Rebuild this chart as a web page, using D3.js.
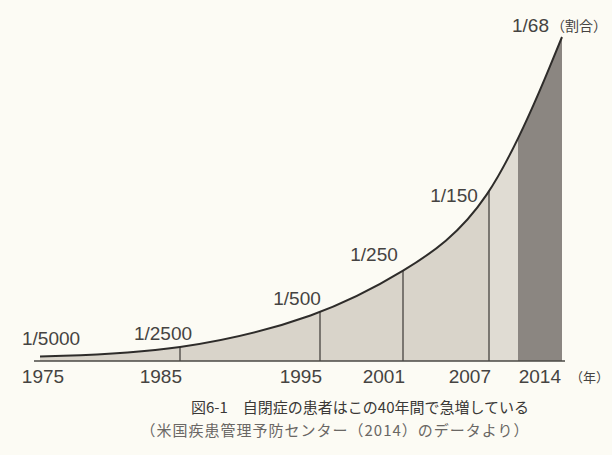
<!DOCTYPE html>
<html>
<head>
<meta charset="utf-8">
<script src="https://cdn.jsdelivr.net/npm/d3@7"></script>
<style>
    body { margin: 0; background: #fcfbf4; }
    svg { display: block; }
</style>
</head>
<body>
<svg id="chart"></svg>
<script>
// データ
const years = [1975, 1985, 1995, 2001, 2007, 2014];
const ratioLabels = ["1/5000", "1/2500", "1/500", "1/250", "1/150", "1/68"];
const ratios = [1 / 5000, 1 / 2500, 1 / 500, 1 / 250, 1 / 150, 1 / 68];
const unitLabel = "（割合）";
const yearUnit = "（年）";
const caption = "図6-1　自閉症の患者はこの40年間で急増している";
const source = "（米国疾患管理予防センター（2014）のデータより）";

const width = 612;
const height = 455;

const svg = d3.select("#chart")
    .attr("width", width)
    .attr("height", height);

svg.append("rect")
    .attr("width", width)
    .attr("height", height)
    .attr("fill", "#fcfbf4");

const baseY = 361;

// x: 年（イラストの間隔はそのまま）
const xScale = d3.scaleLinear()
    .domain(years)
    .range([40, 180, 320, 403, 489, 562]);

const yScale = d3.scaleLinear()
    .domain([0, 1 / 68])
    .range([baseY, 37]);

const points = years.map((y, i) => ({ year: y, value: ratios[i] }));

// なめらかな曲線（元図に近い）
const curve = d3.curveBasis;

const area = d3.area()
    .x(d => xScale(d.year))
    .y0(baseY)
    .y1(d => yScale(d.value))
    .curve(curve);

const line = d3.line()
    .x(d => xScale(d.year))
    .y(d => yScale(d.value))
    .curve(curve);

svg.append("clipPath")
    .attr("id", "under")
    .append("path")
    .attr("d", area(points));

const clipped = svg.append("g").attr("clip-path", "url(#under)");

// 塗り
clipped.append("path")
    .attr("d", area(points))
    .attr("fill", "#d9d4ca");

clipped.append("rect")
    .attr("x", xScale(2007))
    .attr("y", 0)
    .attr("width", xScale(2014) - 44 - xScale(2007))
    .attr("height", baseY)
    .attr("fill", "#e0dcd3");

clipped.append("rect")
    .attr("x", xScale(2014) - 44)
    .attr("y", 0)
    .attr("width", 44)
    .attr("height", baseY)
    .attr("fill", "#8b8681");

// 縦線
clipped.selectAll("line.v")
    .data(points.slice(1, 5))
    .enter()
    .append("line")
    .attr("class", "v")
    .attr("x1", d => xScale(d.year))
    .attr("x2", d => xScale(d.year))
    .attr("y1", baseY)
    .attr("y2", 0)
    .attr("stroke", "#5a5752")
    .attr("stroke-width", 1.5);

// 基線と曲線
svg.append("line")
    .attr("x1", 34)
    .attr("x2", xScale(2014) + 3)
    .attr("y1", baseY)
    .attr("y2", baseY)
    .attr("stroke", "#4a4845")
    .attr("stroke-width", 1.5);

svg.append("path")
    .attr("d", line(points))
    .attr("fill", "none")
    .attr("stroke", "#2e2c2a")
    .attr("stroke-width", 2);

// 割合ラベル
const font = "'Liberation Sans', Arial, sans-serif";

svg.selectAll("text.ratio")
    .data(points)
    .enter()
    .append("text")
    .attr("class", "ratio")
    .attr("x", (d, i) => i === 0 ? xScale(d.year) - 18 : i === 5 ? xScale(d.year) - 50 : xScale(d.year) - 11 - 6 * i)
    .attr("y", (d, i) => i === 5 ? 32 : yScale(d.value) - 12)
    .attr("text-anchor", (d, i) => i === 0 || i === 5 ? "start" : "middle")
    .attr("font-family", font)
    .attr("font-size", 19)
    .attr("fill", "#454341")
    .text((d, i) => ratioLabels[i]);

svg.append("text")
    .attr("x", xScale(2014) - 11)
    .attr("y", 31)
    .attr("font-family", "'Noto Sans CJK JP', sans-serif")
    .attr("font-size", 14)
    .attr("fill", "#454341")
    .text(unitLabel);

// 年ラベル
svg.selectAll("text.year")
    .data(years)
    .enter()
    .append("text")
    .attr("class", "year")
    .attr("x", (d, i) => i === 0 ? xScale(d) + 3 : i === 5 ? xScale(d) - 1 : xScale(d) + 2)
    .attr("y", 383)
    .attr("text-anchor", (d, i) => i === 0 ? "middle" : "end")
    .attr("font-family", font)
    .attr("font-size", 19)
    .attr("fill", "#454341")
    .text(d => d);

svg.append("text")
    .attr("x", xScale(2014) + 8)
    .attr("y", 382)
    .attr("font-family", "'Noto Sans CJK JP', sans-serif")
    .attr("font-size", 13)
    .attr("fill", "#454341")
    .text(yearUnit);

// キャプション
svg.append("text")
    .attr("x", 360)
    .attr("y", 413)
    .attr("text-anchor", "middle")
    .attr("font-family", "'Noto Sans CJK JP', sans-serif")
    .attr("font-size", 15)
    .attr("fill", "#3a3836")
    .text(caption);

svg.append("text")
    .attr("x", 335)
    .attr("y", 436)
    .attr("text-anchor", "middle")
    .attr("font-family", "'Noto Sans CJK JP', sans-serif")
    .attr("font-size", 15)
    .attr("letter-spacing", 1)
    .attr("fill", "#6a6764")
    .text(source);
</script>
</body>
</html>
